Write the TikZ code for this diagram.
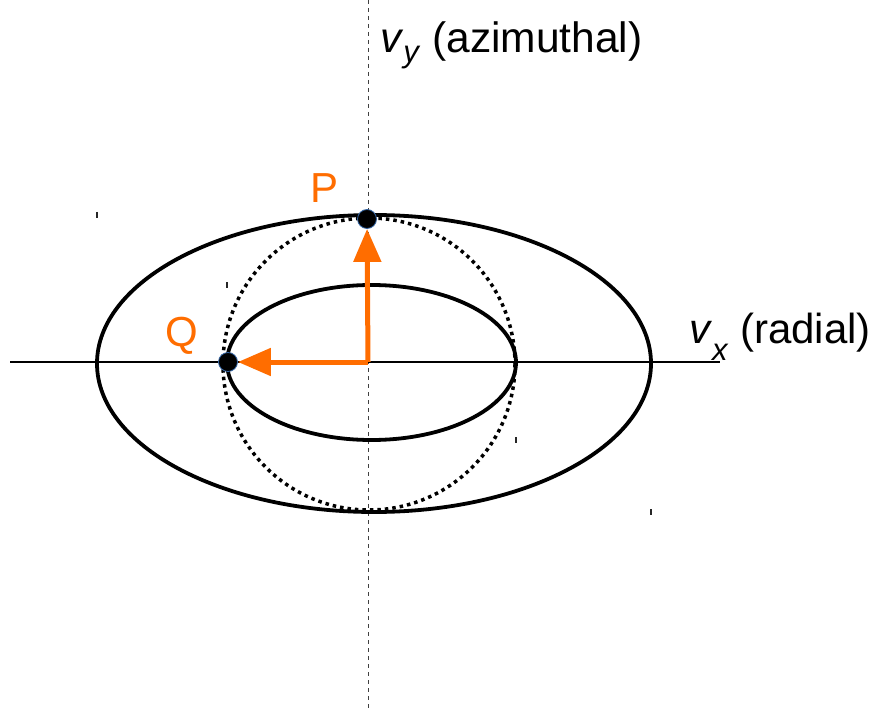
\documentclass[tikz,border=0pt]{standalone}
\usepackage{fontspec}
\setmainfont{Liberation Sans}
\usetikzlibrary{arrows.meta}
\definecolor{orng}{HTML}{FF6D00}
\definecolor{dotblue}{HTML}{3465A4}
\begin{document}
\begin{tikzpicture}[x=1pt,y=-1pt,
  curve/.style={line width=3.8pt},
  circdot/.style={line width=3.5pt,dash pattern=on 3.5pt off 4pt},
  axis/.style={line width=1.3pt},
  vaxis/.style={line width=1pt,dash pattern=on 4pt off 4pt,black!75},
  vec/.style={orng,line width=5pt,-{Triangle[length=33pt,width=27pt]}},
  dot/.style={circle,fill=black,draw=dotblue,line width=0.8pt,inner sep=0pt,minimum size=19pt},
  lbl/.style={inner sep=0pt,anchor=base west},
  tickm/.style={line width=1.8pt,black!85}]
\useasboundingbox (0,0) rectangle (874,708);
\fill[white] (0,0) rectangle (874,708);
% axes
\coordinate (ytop) at (368,0);
\coordinate (ybot) at (368,708);
\coordinate (xl) at (10,362);
\coordinate (xr) at (720,362);
\draw[vaxis] (ytop) -- (ybot);
\draw[axis] (xl) -- (xr);
% ellipses and circle
\draw[curve] (374,363.5) ellipse [x radius=277, y radius=148.5];
\draw[curve] (371.5,362.5) ellipse [x radius=144.5, y radius=77.5];
\draw[circdot] (369,364) circle [radius=146];
% tiny marks
\draw[tickm] (97,212) -- (97,218);
\draw[tickm] (227,282) -- (227,288);
\draw[tickm] (516,437) -- (516,443);
\draw[tickm] (651,509) -- (651,515);
% vectors
\coordinate (O) at (368,362);
\node[dot] (P) at (367,219) {};
\node[dot] (Q) at (228,362) {};
\draw[vec] (O) -- (P);
\draw[vec] (O) -- (Q);
% labels
\node[lbl,font=\fontsize{42.5}{42.5}\selectfont] (vy) at (380,53) {\textit{v}\raisebox{-10pt}{\fontsize{31}{31}\selectfont\textit{y}} (azimuthal)};
\node[lbl,font=\fontsize{42}{42}\selectfont] (vx) at (689,343) {\textit{v}\raisebox{-17pt}{\fontsize{31}{31}\selectfont\textit{x}} (radial)};
\node[lbl,orng,font=\fontsize{42}{42}\selectfont] (Plbl) at (310,203) {P};
\node[lbl,orng,font=\fontsize{42}{42}\selectfont] (Qlbl) at (165,346) {Q};
\end{tikzpicture}
\end{document}
